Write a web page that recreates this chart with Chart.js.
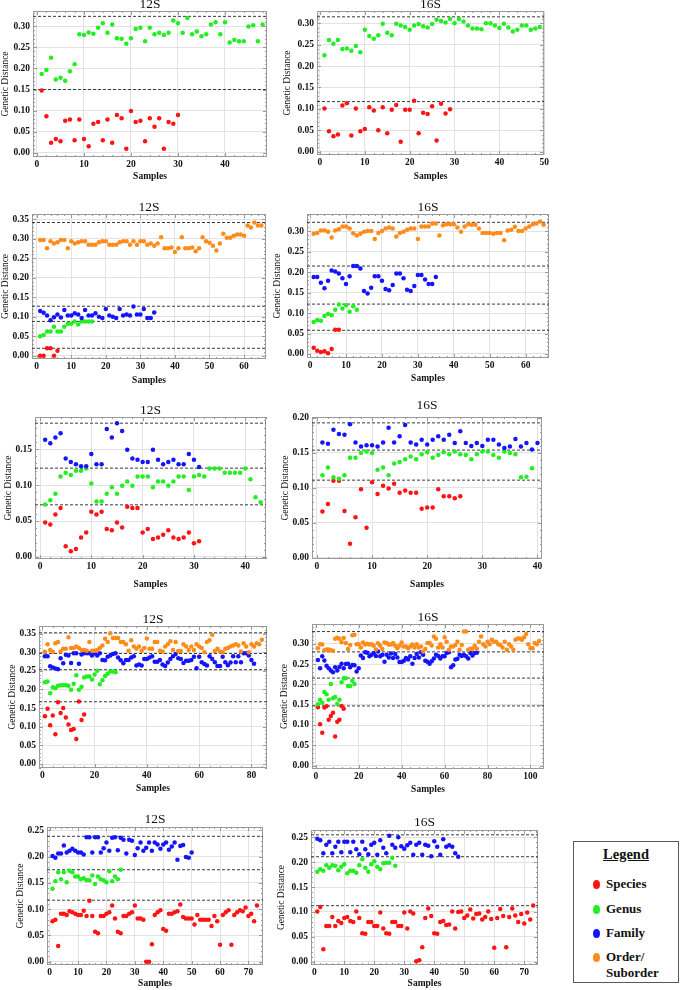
<!DOCTYPE html>
<html>
<head>
<meta charset="utf-8">
<script src="https://cdn.jsdelivr.net/npm/chart.js@4.4.1/dist/chart.umd.min.js"></script>
<style>
  html, body { margin:0; padding:0; background:#ffffff; }
  body { width:680px; height:990px; position:relative; overflow:hidden; font-family:'Liberation Serif','Times New Roman',serif; }
  canvas { position:absolute; }
  #legend { position:absolute; left:573px; top:841px; width:106px; height:142px; box-sizing:border-box; border:1px solid #5a5a5a; background:#fff; }
  .lg-title { position:absolute; left:0; width:100%; text-align:center; top:4px; font-weight:bold; font-size:14.5px; text-decoration:underline; color:#111; }
  .lg-item { position:absolute; left:32px; font-weight:bold; font-size:13px; line-height:16px; color:#111; }
  .lg-dot { position:absolute; left:19px; width:7px; height:9px; border-radius:50%; }
</style>
</head>
<body>
<div id="legend"><div class="lg-title">Legend</div></div>
<script>
// ---------------- DATA ----------------
// Panel 1: 12S (Species, Genus)
const p1Species = [0.148,0.087,0.024,0.033,0.028,0.076,0.079,0.030,0.079,0.033,0.016,0.069,0.073,0.030,0.079,0.024,0.090,0.082,0.010,0.099,0.073,0.076,0.028,0.082,0.062,0.082,0.010,0.073,0.069,0.090];
const p1Genus = [0.187,0.196,0.225,0.174,0.178,0.171,0.193,0.210,0.281,0.279,0.285,0.282,0.296,0.307,0.284,0.304,0.271,0.270,0.258,0.271,0.293,0.296,0.264,0.296,0.281,0.284,0.279,0.284,0.313,0.307,0.284,0.319,0.281,0.287,0.276,0.281,0.304,0.309,0.281,0.309,0.261,0.267,0.264,0.264,0.299,0.302,0.264,0.304];
const p1Lines = [0.323, 0.150];

// Panel 2: 16S (Species, Genus)
const p2Species = [0.101,0.048,0.036,0.040,0.108,0.113,0.038,0.101,0.048,0.053,0.104,0.096,0.050,0.104,0.043,0.098,0.109,0.023,0.098,0.098,0.119,0.043,0.091,0.088,0.106,0.026,0.112,0.089,0.099];
const p2Genus = [0.225,0.261,0.252,0.261,0.240,0.241,0.236,0.247,0.232,0.285,0.270,0.264,0.272,0.299,0.278,0.272,0.299,0.295,0.291,0.285,0.295,0.298,0.293,0.290,0.298,0.308,0.305,0.302,0.310,0.300,0.310,0.304,0.295,0.288,0.288,0.286,0.300,0.300,0.295,0.289,0.299,0.290,0.281,0.285,0.295,0.295,0.285,0.288,0.291];
const p2Lines = [0.315, 0.117];

// Panel 3: 12S (Species, Genus, Family, Order)
const p3Species = [0.000,0.000,0.019,0.019,0.000,0.013];
const p3Genus = [0.050,0.053,0.062,0.062,0.074,0.062,0.062,0.074,0.082,0.082,0.088,0.080,0.088,0.088,0.088,0.088];
const p3Family = [0.115,0.110,0.103,0.091,0.099,0.106,0.098,0.117,0.103,0.103,0.109,0.106,0.097,0.117,0.103,0.103,0.109,0.100,0.097,0.120,0.103,0.100,0.097,0.120,0.103,0.106,0.103,0.126,0.106,0.106,0.120,0.097,0.097,0.111];
const p3Order = [0.297,0.297,0.276,0.294,0.288,0.291,0.297,0.297,0.276,0.294,0.288,0.291,0.294,0.294,0.285,0.285,0.285,0.291,0.294,0.294,0.285,0.285,0.285,0.291,0.294,0.294,0.285,0.294,0.285,0.294,0.294,0.285,0.288,0.282,0.288,0.304,0.276,0.276,0.278,0.266,0.276,0.304,0.276,0.276,0.278,0.268,0.276,0.304,0.294,0.290,0.282,0.270,0.288,0.313,0.303,0.303,0.308,0.311,0.311,0.308,0.334,0.329,0.342,0.334,0.334];
const p3Lines = [0.342, 0.127, 0.088, 0.019];

// Panel 4: 16S (Species, Genus, Family, Order)
const p4Species = [0.015,0.008,0.005,0.007,0.002,0.012,0.059,0.059];
const p4Genus = [0.078,0.083,0.081,0.093,0.098,0.095,0.108,0.121,0.111,0.119,0.103,0.117,0.108];
const p4Family = [0.188,0.188,0.174,0.161,0.179,0.204,0.202,0.197,0.185,0.171,0.190,0.215,0.215,0.209,0.154,0.148,0.162,0.190,0.190,0.179,0.159,0.156,0.169,0.197,0.197,0.185,0.157,0.154,0.166,0.193,0.193,0.182,0.171,0.171,0.188];
const p4Order = [0.294,0.296,0.302,0.302,0.299,0.285,0.302,0.305,0.312,0.312,0.307,0.295,0.290,0.294,0.299,0.301,0.301,0.281,0.296,0.301,0.307,0.309,0.307,0.287,0.296,0.299,0.304,0.307,0.307,0.281,0.312,0.312,0.312,0.319,0.319,0.290,0.315,0.317,0.317,0.317,0.309,0.299,0.312,0.317,0.316,0.316,0.307,0.296,0.296,0.296,0.294,0.296,0.296,0.278,0.302,0.304,0.311,0.301,0.301,0.307,0.312,0.317,0.319,0.324,0.316];
const p4Lines = [0.322, 0.215, 0.122, 0.058];

// Panel 5: 12S (Species, Genus, Family)
const p5Species = [0.048,0.045,0.059,0.068,0.015,0.008,0.011,0.027,0.034,0.063,0.059,0.063,0.039,0.037,0.048,0.041,0.070,0.068,0.068,0.034,0.039,0.025,0.027,0.031,0.037,0.027,0.025,0.027,0.034,0.019,0.022];
const p5Genus = [0.073,0.079,0.088,0.112,0.117,0.114,0.120,0.120,0.123,0.102,0.077,0.077,0.088,0.097,0.088,0.099,0.105,0.099,0.112,0.112,0.112,0.097,0.105,0.105,0.099,0.105,0.112,0.112,0.093,0.112,0.114,0.112,0.123,0.123,0.123,0.117,0.117,0.117,0.117,0.123,0.108,0.083,0.076];
const p5Family = [0.163,0.158,0.166,0.172,0.137,0.132,0.129,0.126,0.126,0.143,0.129,0.129,0.178,0.166,0.186,0.175,0.149,0.137,0.135,0.132,0.132,0.149,0.135,0.129,0.132,0.135,0.129,0.129,0.143,0.135,0.125];
const p5Lines = [0.186, 0.1235, 0.0725];

// Panel 6: 16S (Species, Genus, Family)
const p6Species = [0.066,0.077,0.110,0.110,0.067,0.020,0.058,0.098,0.043,0.108,0.091,0.103,0.099,0.106,0.093,0.096,0.093,0.093,0.070,0.072,0.072,0.098,0.088,0.088,0.085,0.088];
const p6Genus = [0.118,0.129,0.115,0.113,0.118,0.143,0.143,0.150,0.152,0.150,0.126,0.129,0.118,0.135,0.137,0.141,0.145,0.141,0.148,0.151,0.143,0.147,0.151,0.148,0.152,0.148,0.147,0.141,0.148,0.152,0.152,0.147,0.143,0.152,0.150,0.148,0.115,0.116,0.128];
const p6Family = [0.165,0.163,0.183,0.177,0.176,0.191,0.165,0.159,0.161,0.161,0.159,0.165,0.186,0.165,0.174,0.190,0.165,0.162,0.169,0.162,0.169,0.174,0.169,0.176,0.164,0.181,0.164,0.160,0.164,0.160,0.169,0.169,0.162,0.157,0.159,0.170,0.159,0.164,0.155,0.164];
const p6Lines = [0.193, 0.154, 0.111];

// Panel 7: 12S (Species, Genus, Family, Order)
const p7Species = [0.128,0.148,0.104,0.130,0.080,0.166,0.137,0.150,0.125,0.106,0.091,0.094,0.067,0.168,0.118,0.133];
const p7Genus = [0.219,0.221,0.190,0.206,0.203,0.210,0.211,0.211,0.211,0.210,0.199,0.215,0.238,0.199,0.207,0.232,0.235,0.235,0.227,0.240,0.250,0.214,0.225,0.236,0.242,0.248,0.248,0.246];
const p7Family = [0.289,0.289,0.262,0.259,0.256,0.254,0.284,0.270,0.293,0.291,0.271,0.297,0.297,0.269,0.294,0.297,0.297,0.297,0.291,0.297,0.291,0.297,0.279,0.278,0.288,0.291,0.295,0.297,0.286,0.278,0.270,0.279,0.279,0.286,0.289,0.264,0.267,0.264,0.282,0.282,0.286,0.289,0.274,0.274,0.279,0.267,0.263,0.272,0.282,0.289,0.295,0.284,0.282,0.271,0.277,0.277,0.279,0.288,0.257,0.288,0.273,0.268,0.264,0.289,0.282,0.273,0.263,0.263,0.288,0.273,0.265,0.272,0.289,0.273,0.289,0.273,0.297,0.297,0.291,0.279,0.269];
const p7Order = [0.301,0.321,0.306,0.301,0.324,0.327,0.302,0.309,0.309,0.340,0.311,0.311,0.315,0.311,0.306,0.306,0.304,0.327,0.304,0.304,0.306,0.311,0.318,0.336,0.327,0.351,0.338,0.338,0.338,0.327,0.327,0.321,0.304,0.332,0.315,0.309,0.315,0.304,0.311,0.337,0.309,0.309,0.327,0.327,0.304,0.302,0.315,0.321,0.329,0.306,0.327,0.303,0.303,0.321,0.315,0.306,0.315,0.306,0.321,0.315,0.311,0.300,0.327,0.332,0.347,0.303,0.309,0.302,0.300,0.309,0.311,0.315,0.318,0.321,0.318,0.302,0.324,0.315,0.300,0.321,0.315,0.324,0.321,0.333];
const p7Lines = [0.352, 0.2965, 0.253, 0.167];

// Panel 8: 16S (Species, Genus, Family, Order)
const p8Species = [0.144,0.102,0.081,0.143,0.146,0.113,0.122,0.130,0.072,0.108,0.113,0.147,0.140];
const p8Genus = [0.151,0.162,0.155,0.181,0.176,0.162,0.201,0.166,0.169,0.152,0.162,0.205,0.215,0.215,0.196,0.196,0.209,0.201];
const p8Family = [0.260,0.240,0.269,0.259,0.246,0.240,0.234,0.230,0.242,0.234,0.243,0.251,0.240,0.250,0.251,0.242,0.248,0.247,0.232,0.240,0.271,0.265,0.279,0.278,0.269,0.273,0.277,0.270,0.281,0.269,0.273,0.256,0.273,0.266,0.276,0.265,0.275,0.266,0.255,0.255,0.258,0.265,0.261,0.269,0.251,0.265,0.275,0.266,0.279,0.273,0.258,0.256,0.251,0.257,0.264,0.273,0.270,0.264,0.269,0.269,0.277,0.279,0.242,0.247,0.261,0.263,0.273,0.270,0.273,0.269,0.264,0.277,0.271,0.277,0.278];
const p8Order = [0.289,0.299,0.298,0.284,0.286,0.286,0.284,0.283,0.312,0.315,0.312,0.304,0.314,0.302,0.287,0.297,0.321,0.322,0.299,0.299,0.291,0.303,0.298,0.300,0.298,0.299,0.295,0.286,0.301,0.295,0.287,0.303,0.302,0.298,0.298,0.302,0.295,0.289,0.295,0.303,0.293,0.293,0.289,0.293,0.298,0.291,0.299,0.291,0.293,0.281,0.287,0.302,0.302,0.296,0.318,0.312,0.291,0.299,0.291,0.316,0.305,0.285,0.293,0.293,0.297,0.305,0.285,0.297,0.330,0.330,0.285,0.288,0.288,0.295,0.288,0.305,0.318,0.299,0.293,0.305,0.299,0.310,0.305,0.305,0.299,0.297,0.291,0.305,0.285,0.299,0.293,0.285,0.310,0.313,0.313,0.310,0.316,0.324,0.299,0.289,0.289,0.302,0.299,0.307];
const p8Lines = [0.330, 0.280, 0.2155, 0.147];

// Panel 9: 12S (Species, Genus, Family)
const p9Species = [0.077,0.080,0.030,0.091,0.091,0.089,0.096,0.094,0.091,0.089,0.089,0.097,0.087,0.116,0.087,0.057,0.054,0.087,0.087,0.091,0.094,0.107,0.082,0.057,0.054,0.087,0.087,0.091,0.094,0.107,0.082,0.082,0.080,0.000,0.000,0.033,0.089,0.094,0.098,0.062,0.059,0.091,0.091,0.094,0.096,0.109,0.085,0.082,0.082,0.082,0.071,0.089,0.080,0.080,0.080,0.080,0.068,0.087,0.077,0.032,0.089,0.094,0.098,0.032,0.089,0.094,0.098,0.096,0.103,0.087,0.091,0.077,0.107];
const p9Genus = [0.139,0.153,0.170,0.157,0.170,0.151,0.173,0.170,0.162,0.162,0.157,0.159,0.155,0.155,0.164,0.148,0.162,0.157,0.155,0.151,0.172,0.153,0.162,0.157,0.175];
const p9Family = [0.201,0.198,0.206,0.206,0.221,0.208,0.211,0.215,0.211,0.208,0.208,0.204,0.237,0.237,0.208,0.237,0.237,0.208,0.216,0.227,0.211,0.236,0.237,0.212,0.236,0.232,0.206,0.232,0.230,0.203,0.216,0.227,0.211,0.217,0.227,0.211,0.227,0.223,0.215,0.223,0.227,0.213,0.219,0.227,0.194,0.220,0.222,0.199,0.198,0.208];
const p9Lines = [0.2386, 0.175, 0.117];

// Panel 10: 16S (Species, Genus, Family)
const p10Species = [0.101,0.110,0.025,0.072,0.072,0.090,0.072,0.082,0.078,0.088,0.090,0.082,0.080,0.101,0.088,0.057,0.056,0.080,0.080,0.072,0.072,0.099,0.067,0.057,0.056,0.080,0.080,0.072,0.072,0.099,0.067,0.101,0.097,0.001,0.003,0.029,0.088,0.107,0.092,0.057,0.056,0.080,0.082,0.074,0.075,0.101,0.067,0.100,0.101,0.088,0.093,0.105,0.087,0.096,0.097,0.085,0.090,0.101,0.086,0.028,0.088,0.106,0.092,0.029,0.090,0.107,0.093,0.080,0.096,0.077,0.099,0.085,0.113];
const p10Genus = [0.181,0.186,0.183,0.194,0.189,0.194,0.193,0.184,0.191,0.196,0.178,0.183,0.183,0.179,0.194,0.206,0.189,0.181,0.196,0.202,0.191,0.186,0.198,0.199,0.199,0.209,0.193];
const p10Family = [0.247,0.244,0.218,0.235,0.241,0.218,0.231,0.241,0.220,0.241,0.241,0.220,0.241,0.226,0.216,0.241,0.226,0.216,0.235,0.239,0.215,0.244,0.229,0.218,0.253,0.235,0.229,0.250,0.232,0.227,0.234,0.239,0.215,0.235,0.239,0.215,0.235,0.233,0.212,0.242,0.231,0.215,0.246,0.231,0.234,0.231,0.218,0.211];
const p10Lines = [0.255, 0.211, 0.1126];

// Tick label values
const xTicks40 = [0,10,20,30,40];
const xTicks50 = [0,10,20,30,40,50];
const xTicks60 = [0,10,20,30,40,50,60];
const xTicks70 = [0,10,20,30,40,50,60,70];
const xTicks80 = [0,20,40,60,80];
const xTicks100 = [0,20,40,60,80,100];
const yTicks15 = [0,0.05,0.10,0.15];
const yTicks20 = [0,0.05,0.10,0.15,0.20];
const yTicks25 = [0,0.05,0.10,0.15,0.20,0.25];
const yTicks30 = [0,0.05,0.10,0.15,0.20,0.25,0.30];
const yTicks35 = [0,0.05,0.10,0.15,0.20,0.25,0.30,0.35];

const legendLabels = ['Species','Genus','Family','Order/\nSuborder'];
const panelTitles = ['12S','16S','12S','16S','12S','16S','12S','16S','12S','16S'];

// ---------------- STYLE / LAYOUT ----------------
const FONT = "'Liberation Serif','Times New Roman',serif";
const COLORS = { species:'#ff1414', genus:'#22ee22', family:'#1414ff', order:'#ff8c1a' };
const legendColors = [COLORS.species, COLORS.genus, COLORS.family, COLORS.order];

const panels = [
  {L:33,T:11,R:267,B:157, xr:[-0.85,48.94], yr:[-0.0095,0.3357], xt:xTicks40, yt:yTicks30, ytx:5, sy:176.7, ty:5,
   series:[[p1Genus,'genus'],[p1Species,'species']], lines:p1Lines},
  {L:317,T:11,R:548,B:155, xr:[-0.66,49.97], yr:[-0.0077,0.3286], xt:xTicks50, yt:yTicks30, ytx:287, sy:176.7, ty:4,
   series:[[p2Genus,'genus'],[p2Species,'species']], lines:p2Lines},
  {L:32,T:214,R:266,B:359, xr:[-1.36,66.35], yr:[-0.0085,0.3638], xt:xTicks60, yt:yTicks35, ytx:5, sy:380.7, ty:208.3,
   series:[[p3Order,'order'],[p3Family,'family'],[p3Genus,'genus'],[p3Species,'species']], lines:p3Lines},
  {L:307,T:214,R:549,B:358, xr:[-0.86,66.5], yr:[-0.0098,0.3423], xt:xTicks60, yt:yTicks30, ytx:277, sy:379.3, ty:208.3,
   series:[[p4Order,'order'],[p4Family,'family'],[p4Genus,'genus'],[p4Species,'species']], lines:p4Lines},
  {L:35,T:417,R:266,B:559, xr:[-0.98,44.04], yr:[-0.0028,0.1946], xt:xTicks40, yt:yTicks15, ytx:8.3, sy:585, ty:410,
   series:[[p5Family,'family'],[p5Genus,'genus'],[p5Species,'species']], lines:p5Lines},
  {L:312,T:417,R:542,B:559, xr:[-0.89,40.82], yr:[-0.0019,0.2014], xt:xTicks40, yt:yTicks20, ytx:285, sy:585, ty:405,
   series:[[p6Family,'family'],[p6Genus,'genus'],[p6Species,'species']], lines:p6Lines},
  {L:39,T:626,R:267,B:768, xr:[-1.27,85.96], yr:[-0.0107,0.3702], xt:xTicks80, yt:yTicks35, ytx:11.7, sy:789.3, ty:619,
   series:[[p7Order,'order'],[p7Family,'family'],[p7Genus,'genus'],[p7Species,'species']], lines:p7Lines},
  {L:312,T:624,R:544,B:769, xr:[-1.77,106.3], yr:[-0.0082,0.3486], xt:xTicks100, yt:yTicks30, ytx:284, sy:790, ty:617.7,
   series:[[p8Order,'order'],[p8Family,'family'],[p8Genus,'genus'],[p8Species,'species']], lines:p8Lines},
  {L:47,T:827,R:263,B:965, xr:[-0.94,75.13], yr:[-0.0063,0.2563], xt:xTicks70, yt:yTicks25, ytx:20, sy:984, ty:819,
   series:[[p9Family,'family'],[p9Genus,'genus'],[p9Species,'species']], lines:p9Lines},
  {L:311,T:830,R:538,B:965, xr:[-1.1,74.6], yr:[-0.0066,0.2647], xt:xTicks70, yt:yTicks25, ytx:281, sy:984, ty:822.7,
   series:[[p10Family,'family'],[p10Genus,'genus'],[p10Species,'species']], lines:p10Lines}
];

Chart.defaults.font.family = FONT;
Chart.defaults.color = '#111';

// Mathematica-like frame with inner major/minor ticks
const framePlugin = {
  id: 'mframe',
  beforeDatasetsDraw(chart) {
    const { ctx, chartArea: a, scales: { x, y } } = chart;
    ctx.save();
    ctx.strokeStyle = '#9a9a9a';
    ctx.lineWidth = 1;
    ctx.strokeRect(a.left + 0.5, a.top + 0.5, a.width - 1, a.height - 1);
    const drawTicks = (scale, horiz) => {
      const vals = scale.ticks.map(t => t.value);
      const step = vals[1] - vals[0];
      const minor = step / 5;
      const start = Math.ceil(scale.min / minor - 1e-9);
      const end = Math.floor(scale.max / minor + 1e-9);
      ctx.beginPath();
      for (let k = start; k <= end; k++) {
        const v = k * minor;
        const major = (k % 5) === 0;
        const len = major ? 4 : 2;
        const p = Math.round(scale.getPixelForValue(v)) + 0.5;
        if (horiz) {
          ctx.moveTo(p, a.bottom); ctx.lineTo(p, a.bottom - len);
          ctx.moveTo(p, a.top); ctx.lineTo(p, a.top + len);
        } else {
          ctx.moveTo(a.left, p); ctx.lineTo(a.left + len, p);
          ctx.moveTo(a.right, p); ctx.lineTo(a.right - len, p);
        }
      }
      ctx.stroke();
    };
    drawTicks(x, true);
    drawTicks(y, false);
    ctx.restore();
  }
};

panels.forEach((p, idx) => {
  const TITLE_LH = 14;
  const cLeft = Math.round(p.ytx - 6);
  const cTop = Math.floor(Math.min(p.ty - TITLE_LH / 2, p.T - TITLE_LH));
  const cBottom = Math.round(p.sy + 6);
  const cRight = Math.round(p.R + 3);
  const W = cRight - cLeft, H = cBottom - cTop;
  const yW = p.L - cLeft;
  const xH = cBottom - p.B;
  const titlePadBottom = p.T - cTop - TITLE_LH;

  const cv = document.createElement('canvas');
  cv.width = W; cv.height = H;
  cv.style.left = cLeft + 'px'; cv.style.top = cTop + 'px';
  cv.style.width = W + 'px'; cv.style.height = H + 'px';
  document.body.appendChild(cv);

  const datasets = [];
  p.series.forEach(([vals, key]) => {
    datasets.push({
      data: vals.map((v, i) => ({ x: i + 1, y: v })),
      backgroundColor: COLORS[key],
      borderWidth: 0,
      pointRadius: 2.25,
      pointHoverRadius: 2.25,
      showLine: false
    });
  });
  p.lines.forEach(t => {
    datasets.push({
      data: [{ x: p.xr[0], y: t }, { x: p.xr[1], y: t }],
      showLine: true,
      borderColor: '#3a3a3a',
      borderWidth: 1,
      borderDash: [3, 2],
      pointRadius: 0,
      pointHoverRadius: 0,
      fill: false
    });
  });

  new Chart(cv, {
    type: 'scatter',
    data: { datasets },
    options: {
      responsive: false,
      animation: false,
      devicePixelRatio: 1,
      events: [],
      layout: { padding: { left: 0, right: cRight - p.R, top: 0, bottom: 0 } },
      plugins: {
        legend: { display: false },
        tooltip: { enabled: false },
        title: {
          display: true, text: panelTitles[idx], fullSize: false,
          font: { family: FONT, size: 13.5, weight: 'normal', lineHeight: TITLE_LH + 'px' },
          padding: { top: 0, bottom: titlePadBottom }, color: '#111'
        }
      },
      scales: {
        x: {
          type: 'linear', min: p.xr[0], max: p.xr[1],
          afterBuildTicks: s => { s.ticks = p.xt.map(v => ({ value: v })); },
          afterFit: s => { s.height = xH; },
          ticks: { font: { family: FONT, size: 9.5, weight: 'bold' }, padding: 2, color: '#111',
                   maxRotation: 0, autoSkip: false, callback: v => String(v) },
          grid: { color: '#e2e2e2', lineWidth: 1, drawTicks: false },
          border: { display: false },
          title: { display: true, text: 'Samples', padding: 0,
                   font: { family: FONT, size: 9.5, weight: 'bold', lineHeight: '12px' }, color: '#111' }
        },
        y: {
          type: 'linear', min: p.yr[0], max: p.yr[1],
          afterBuildTicks: s => { s.ticks = p.yt.map(v => ({ value: v })); },
          afterFit: s => { s.width = yW; },
          ticks: { font: { family: FONT, size: 9.5, weight: 'bold' }, padding: 3, color: '#111',
                   autoSkip: false, callback: v => Number(v).toFixed(2) },
          grid: { color: '#e2e2e2', lineWidth: 1, drawTicks: false },
          border: { display: false },
          title: { display: true, text: 'Genetic Distance', padding: 0,
                   font: { family: FONT, size: 9.5, weight: 'normal', lineHeight: '12px' }, color: '#111' }
        }
      }
    },
    plugins: [framePlugin]
  });
});

// Legend box (HTML text)
const legendBox = document.getElementById('legend');
const itemTops = [35, 60, 84, 108];
legendLabels.forEach((lab, i) => {
  const dot = document.createElement('div');
  dot.className = 'lg-dot';
  dot.style.background = legendColors[i];
  dot.style.top = (itemTops[i] + 3) + 'px';
  legendBox.appendChild(dot);
  const t = document.createElement('div');
  t.className = 'lg-item';
  t.style.top = (itemTops[i] - 1) + 'px';
  t.innerHTML = lab.split('\n').join('<br>');
  legendBox.appendChild(t);
});
</script>
</body>
</html>
